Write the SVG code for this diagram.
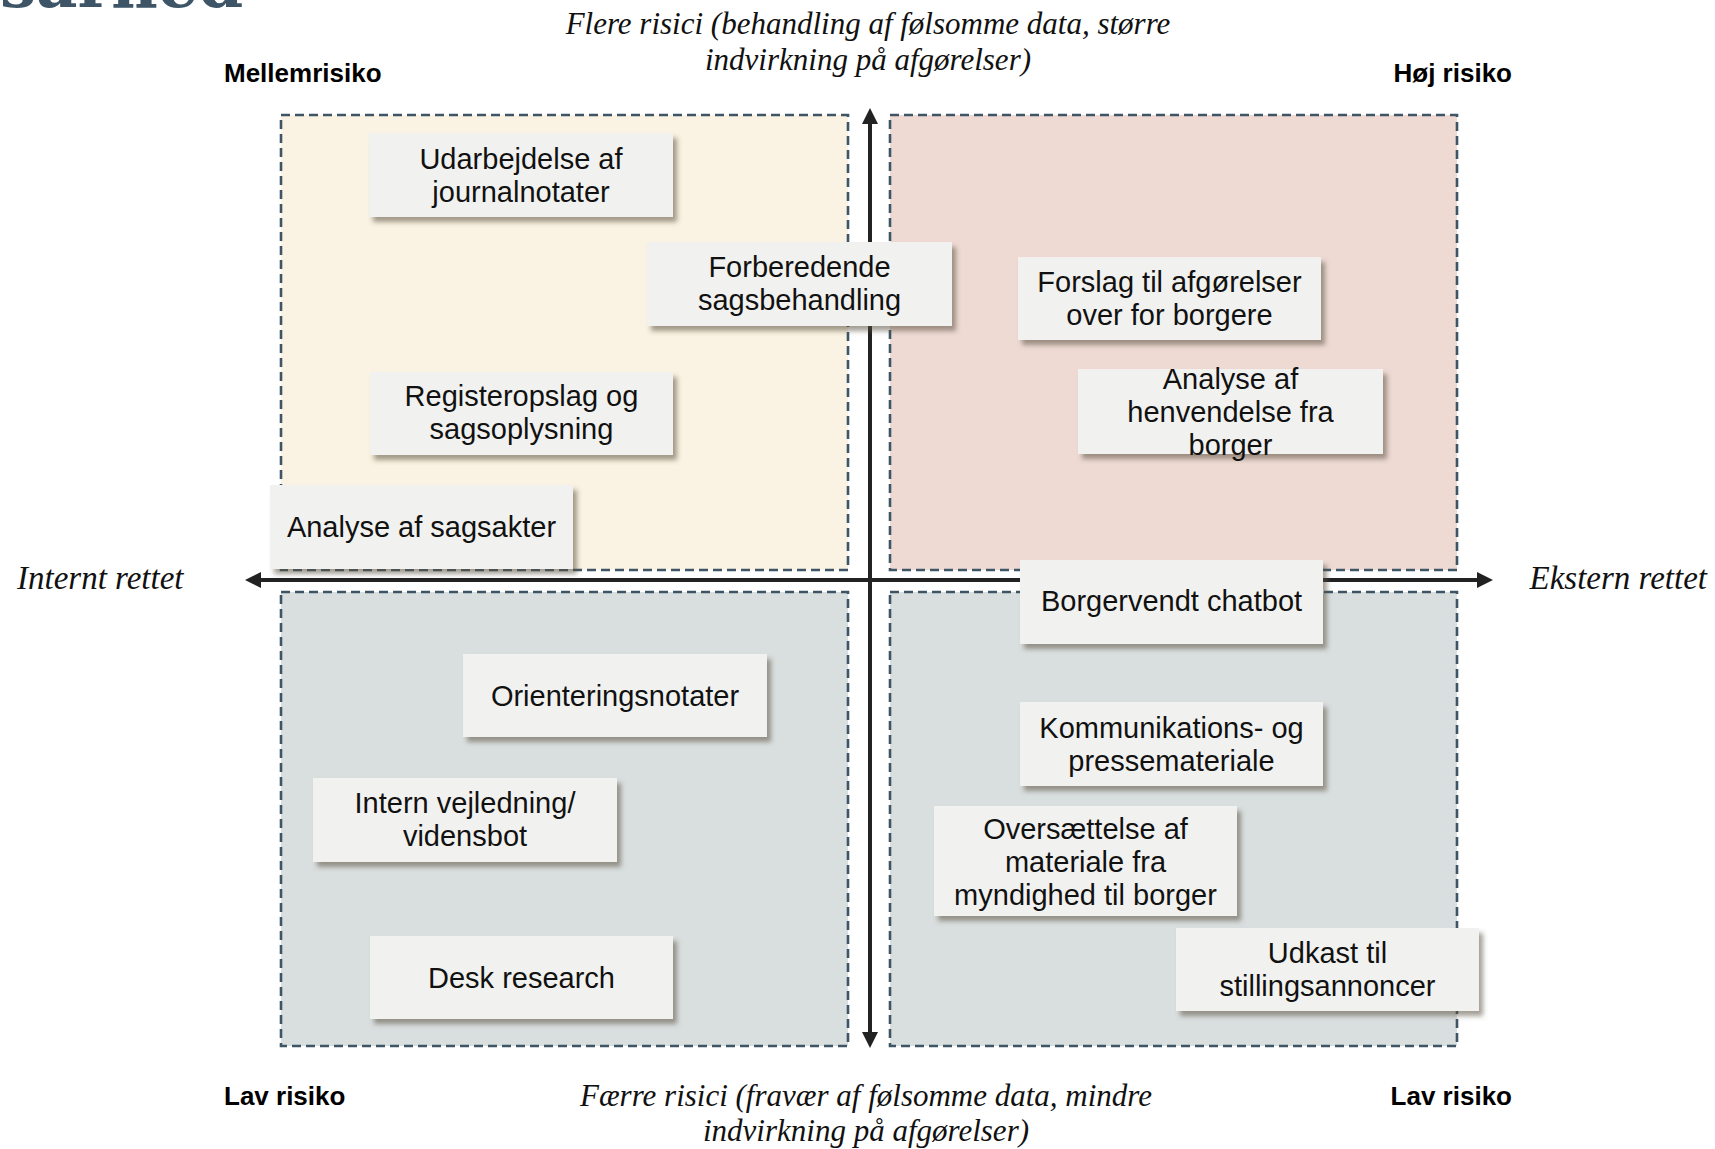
<svg xmlns="http://www.w3.org/2000/svg" width="1715" height="1149" viewBox="0 0 1715 1149">
<style>
.quad{stroke:#3e5566;stroke-width:2.6;stroke-dasharray:9 5}
.q-mid{fill:#faf2e2}
.q-high{fill:#eedad3}
.q-low{fill:#d9dfdf}
.box{fill:#f1f1f0;filter:url(#sh)}
.nt{font-family:"Liberation Sans",Arial,sans-serif;font-size:29px;fill:#111;text-anchor:middle}
.risk{font-family:"Liberation Sans",Arial,sans-serif;font-size:26px;font-weight:bold;fill:#000}
.ax{font-family:"Liberation Serif","Times New Roman",serif;font-style:italic;font-size:31px;fill:#111;text-anchor:middle}
.side{font-family:"Liberation Serif","Times New Roman",serif;font-style:italic;font-size:33px;fill:#111}
.axis{stroke:#222;stroke-width:4;fill:none}
.head{fill:#222}
</style>
<defs>
<filter id="sh" x="-10%" y="-10%" width="125%" height="130%">
<feDropShadow dx="4" dy="5" stdDeviation="2.5" flood-color="#5a5040" flood-opacity="0.55"/>
</filter>
</defs>
<rect width="1715" height="1149" fill="#ffffff"/>
<text x="0" y="7" font-family="'DejaVu Serif',serif" font-weight="bold" font-size="64" fill="#3d5566">sarhed</text>

<g id="quadrants">
<rect id="q-tl" class="quad q-mid" x="281" y="115" width="567" height="455"/>
<rect id="q-tr" class="quad q-high" x="890" y="115" width="567" height="455"/>
<rect id="q-bl" class="quad q-low" x="281" y="592" width="567" height="454"/>
<rect id="q-br" class="quad q-low" x="890" y="592" width="567" height="454"/>
</g>

<g id="connectors">
<line class="axis" x1="870" y1="120" x2="870" y2="1035"/>
<polygon class="head" points="870,108 862,124 878,124"/>
<polygon class="head" points="870,1048 862,1032 878,1032"/>
<line class="axis" x1="257" y1="580" x2="1481" y2="580"/>
<polygon class="head" points="245,580 261,572 261,588"/>
<polygon class="head" points="1493,580 1477,572 1477,588"/>
</g>

<g id="labels">
<text class="risk" x="224" y="82">Mellemrisiko</text>
<text class="risk" x="1512" y="82" text-anchor="end">Høj risiko</text>
<text class="risk" x="224" y="1105">Lav risiko</text>
<text class="risk" x="1512" y="1105" text-anchor="end">Lav risiko</text>
<text class="ax" x="868" y="34">Flere risici (behandling af følsomme data, større</text>
<text class="ax" x="868" y="70">indvirkning på afgørelser)</text>
<text class="ax" x="866" y="1106">Færre risici (fravær af følsomme data, mindre</text>
<text class="ax" x="866" y="1141">indvirkning på afgørelser)</text>
<text class="side" x="17" y="589">Internt rettet</text>
<text class="side" x="1707" y="589" text-anchor="end">Ekstern rettet</text>
</g>

<g id="n-udarbejdelse">
<rect class="box" x="369" y="133" width="304" height="84"/>
<text class="nt" x="521" y="169">Udarbejdelse af</text>
<text class="nt" x="521" y="202">journalnotater</text>
</g>
<g id="n-forberedende">
<rect class="box" x="647" y="242" width="305" height="84"/>
<text class="nt" x="799.5" y="277">Forberedende</text>
<text class="nt" x="799.5" y="310">sagsbehandling</text>
</g>
<g id="n-registeropslag">
<rect class="box" x="370" y="372" width="303" height="83"/>
<text class="nt" x="521.5" y="406">Registeropslag og</text>
<text class="nt" x="521.5" y="439">sagsoplysning</text>
</g>
<g id="n-analyse-sagsakter">
<rect class="box" x="270" y="485" width="303" height="84"/>
<text class="nt" x="421.5" y="537">Analyse af sagsakter</text>
</g>
<g id="n-forslag">
<rect class="box" x="1018" y="257" width="303" height="83"/>
<text class="nt" x="1169.5" y="292">Forslag til afgørelser</text>
<text class="nt" x="1169.5" y="325">over for borgere</text>
</g>
<g id="n-henvendelse">
<rect class="box" x="1078" y="369" width="305" height="85"/>
<text class="nt" x="1230.5" y="389">Analyse af</text>
<text class="nt" x="1230.5" y="422">henvendelse fra</text>
<text class="nt" x="1230.5" y="455">borger</text>
</g>
<g id="n-chatbot">
<rect class="box" x="1020" y="560" width="303" height="84"/>
<text class="nt" x="1171.5" y="611">Borgervendt chatbot</text>
</g>
<g id="n-orientering">
<rect class="box" x="463" y="654" width="304" height="83"/>
<text class="nt" x="615" y="706">Orienteringsnotater</text>
</g>
<g id="n-intern">
<rect class="box" x="313" y="778" width="304" height="84"/>
<text class="nt" x="465" y="813">Intern vejledning/</text>
<text class="nt" x="465" y="846">vidensbot</text>
</g>
<g id="n-desk">
<rect class="box" x="370" y="936" width="303" height="83"/>
<text class="nt" x="521.5" y="988">Desk research</text>
</g>
<g id="n-kommunikation">
<rect class="box" x="1020" y="702" width="303" height="84"/>
<text class="nt" x="1171.5" y="738">Kommunikations- og</text>
<text class="nt" x="1171.5" y="771">pressemateriale</text>
</g>
<g id="n-oversaettelse">
<rect class="box" x="934" y="806" width="303" height="110"/>
<text class="nt" x="1085.5" y="839">Oversættelse af</text>
<text class="nt" x="1085.5" y="872">materiale fra</text>
<text class="nt" x="1085.5" y="905">myndighed til borger</text>
</g>
<g id="n-udkast">
<rect class="box" x="1176" y="928" width="303" height="83"/>
<text class="nt" x="1327.5" y="963">Udkast til</text>
<text class="nt" x="1327.5" y="996">stillingsannoncer</text>
</g>
</svg>
